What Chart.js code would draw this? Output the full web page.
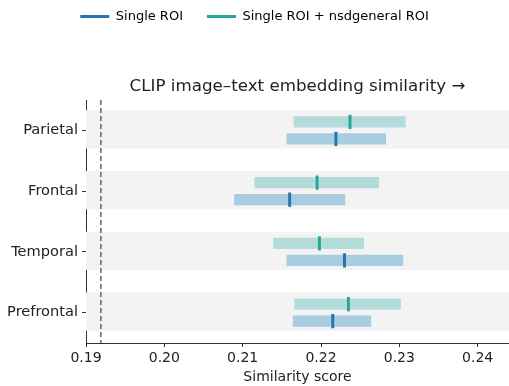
<!DOCTYPE html>
<html>
<head>
<meta charset="utf-8">
<script src="https://cdn.jsdelivr.net/npm/chart.js@4"></script>
<style>
  html, body { margin: 0; padding: 0; background: #fff; }
  #wrap { width: 509px; height: 386px; }
</style>
</head>
<body>
<div id="wrap"><canvas id="chart"></canvas></div>
<script>
//=[ Data ]=====================================================================

const regions = ["Parietal", "Frontal", "Temporal", "Prefrontal"];

const singleLow = [0.2156, 0.2089, 0.2156, 0.2164];
const singleHigh = [0.2283, 0.2231, 0.2305, 0.2264];
const singleMedian = [0.2219, 0.216, 0.223, 0.2215];

const comboLow = [0.2165, 0.2115, 0.2139, 0.2166];
const comboHigh = [0.2308, 0.2274, 0.2255, 0.2302];
const comboMedian = [0.2237, 0.2195, 0.2198, 0.2235];

const baseline = 0.1919;
const xMin = 0.19;
const xMax = 0.244;

//=[ Helpers ]==================================================================

const blue = "#1f77b4";
const blueLight = "#a9cde0";
const teal = "#26a69a";
const tealLight = "#b3dbda";
const tickHalf = 0.00019;

const ranges = (lo, hi) => lo.map((v, i) => [v, hi[i]]);
const medians = (m) => m.map((v) => [v - tickHalf, v + tickHalf]);

const bandsAndBaseline = {
  id: "bandsAndBaseline",
  beforeDatasetsDraw(chart) {
    const { ctx, chartArea, scales } = chart;
    const step = Math.abs(scales.y.getPixelForValue(1) - scales.y.getPixelForValue(0));
    ctx.save();
    ctx.fillStyle = "#f3f3f3";
    regions.forEach((_, i) => {
      const yc = scales.y.getPixelForValue(i);
      const h = step * 0.63;
      ctx.fillRect(chartArea.left, yc - h / 2 - 1, chartArea.right - chartArea.left, h);
    });
    const x = scales.x.getPixelForValue(baseline);
    ctx.strokeStyle = "#666";
    ctx.lineWidth = 1.5;
    ctx.setLineDash([5, 3]);
    ctx.beginPath();
    ctx.moveTo(x, chartArea.top);
    ctx.lineTo(x, chartArea.bottom);
    ctx.stroke();
    ctx.restore();
  },
};

//=[ Chart ]====================================================================

Chart.defaults.font.family = "DejaVu Sans";
Chart.defaults.color = "#222";

const config = {
  type: "bar",
  data: {
    labels: regions,
    datasets: [
      {
        label: "Single ROI + nsdgeneral ROI",
        data: ranges(comboLow, comboHigh),
        backgroundColor: tealLight,
        stack: "combo",
        barPercentage: 0.66,
        order: 1,
      },
      {
        label: "combo median",
        data: medians(comboMedian),
        backgroundColor: teal,
        stack: "combo",
        barPercentage: 0.84,
        order: 0,
      },
      {
        label: "Single ROI",
        data: ranges(singleLow, singleHigh),
        backgroundColor: blueLight,
        stack: "single",
        barPercentage: 0.66,
        order: 1,
      },
      {
        label: "single median",
        data: medians(singleMedian),
        backgroundColor: blue,
        stack: "single",
        barPercentage: 0.84,
        order: 0,
      },
    ],
  },
  options: {
    indexAxis: "y",
    responsive: true,
    maintainAspectRatio: false,
    animation: false,
    datasets: { bar: { categoryPercentage: 0.56 } },
    layout: { padding: { left: 0, right: 0, top: -14 } },
    scales: {
      x: {
        min: xMin,
        max: xMax,
        stacked: false,
        grid: { drawOnChartArea: false, drawTicks: true, tickLength: 4, tickColor: "#333" },
        border: { color: "#333", width: 1 },
        ticks: {
          stepSize: 0.01,
          includeBounds: false,
          font: { size: 14 },
          color: "#222",
          padding: 3,
          callback: (v) => v.toFixed(2),
        },
        title: { display: true, text: "Similarity score", font: { size: 14 }, color: "#222", padding: { top: 2, bottom: 0 } },
        afterFit: (s) => { s.height = 43; },
      },
      y: {
        grid: { offset: false, drawOnChartArea: false, drawTicks: true, tickLength: 4, tickColor: "#333" },
        border: { color: "#333", width: 1 },
        ticks: { font: { size: 14.6 }, color: "#222", padding: 4 },
        afterFit: (s) => { s.width = 86; },
      },
    },
    plugins: {
      legend: {
        position: "top",
        weight: 3000,
        labels: {
          usePointStyle: true,
          pointStyleWidth: 29,
          padding: 24,
          font: { size: 13 },
          color: "#222",
          generateLabels: () => [
            { text: "Single ROI", strokeStyle: blue, fillStyle: blue, lineWidth: 3, pointStyle: "line", datasetIndex: 2 },
            { text: "Single ROI + nsdgeneral ROI", strokeStyle: teal, fillStyle: teal, lineWidth: 3, pointStyle: "line", datasetIndex: 0 },
          ],
        },
      },
      title: {
        display: true,
        text: "CLIP image\u2013text embedding similarity \u2192",
        fullSize: false,
        font: { size: 16.7, weight: "normal" },
        color: "#222",
        padding: { top: 44, bottom: 3 },
      },
      tooltip: { enabled: false },
    },
  },
  plugins: [bandsAndBaseline],
};

new Chart(document.getElementById("chart"), config);
</script>
</body>
</html>
